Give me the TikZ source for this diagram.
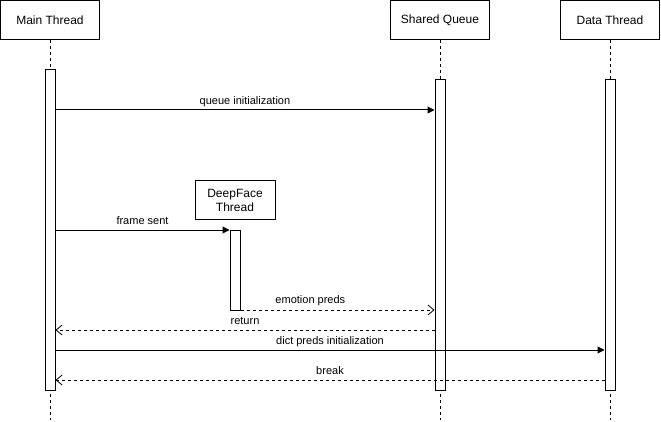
\documentclass[tikz,border=0pt]{standalone}
\usepackage{fontspec}
\setmainfont{Liberation Sans}
\usetikzlibrary{arrows.meta,calc}
\begin{document}
\begin{tikzpicture}[x=1pt,y=-1pt,
  head/.style={draw,line width=1pt,minimum width=99pt,minimum height=39pt,font=\fontsize{12}{14}\selectfont,inner sep=0pt,align=center},
  act/.style={draw,fill=white,line width=1pt,minimum width=10pt,inner sep=0pt},
  life/.style={line width=0.8pt,dash pattern=on 3pt off 3pt},
  msg/.style={line width=1pt,-{Triangle[length=7pt,width=7pt]}},
  ret/.style={line width=0.8pt,dash pattern=on 3pt off 3pt,-{Straight Barb[length=6pt,width=10pt,line width=0.8pt]}},
  lbl/.style={font=\fontsize{11}{13}\selectfont,inner sep=0pt,text depth=0pt}]
\useasboundingbox (0,0) rectangle (661,422);
% headers
\node[head] (mt) at (50,20) {Main Thread};
\node[head] (sq) at (440,20) {Shared Queue};
\node[head] (dt) at (610,20) {Data Thread};
\node[head,minimum width=80pt] (df) at (235,200) {DeepFace\\Thread};
% lifeline ends
\coordinate (mtend) at (50,420);
\coordinate (sqend) at (440,420);
\coordinate (dtend) at (610,420);
\draw[life] (mt.south) -- (mtend);
\draw[life] (sq.south) -- (sqend);
\draw[life] (dt.south) -- (dtend);
% activations
\node[act,minimum height=320pt] (ma) at (50,230) {};
\node[act,minimum height=310pt] (sqa) at (440,235) {};
\node[act,minimum height=310pt] (dta) at (610,235) {};
\node[act,minimum height=80pt] (dfa) at (235,270) {};
% message rows
\coordinate (r1) at (0,110);
\coordinate (r2) at (0,230);
\coordinate (r3) at (0,310);
\coordinate (r4) at (0,330);
\coordinate (r5) at (0,350);
\coordinate (r6) at (0,380);
\draw[msg] (ma.east |- r1) -- node[lbl,yshift=9pt]{queue initialization} (sqa.west |- r1);
\draw[msg] (ma.east |- r2) -- node[lbl,yshift=9pt]{frame sent} (dfa.west |- r2);
\draw[ret] (dfa.east |- r3) -- node[lbl,pos=0.36,yshift=10pt]{emotion preds} (sqa.west |- r3);
\draw[ret] (sqa.west |- r4) -- node[lbl,yshift=9pt]{return} (ma.east |- r4);
\draw[msg] (ma.east |- r5) -- node[lbl,yshift=9pt]{dict preds initialization} (dta.west |- r5);
\draw[ret] (dta.west |- r6) -- node[lbl,yshift=9pt]{break} (ma.east |- r6);
\end{tikzpicture}
\end{document}
